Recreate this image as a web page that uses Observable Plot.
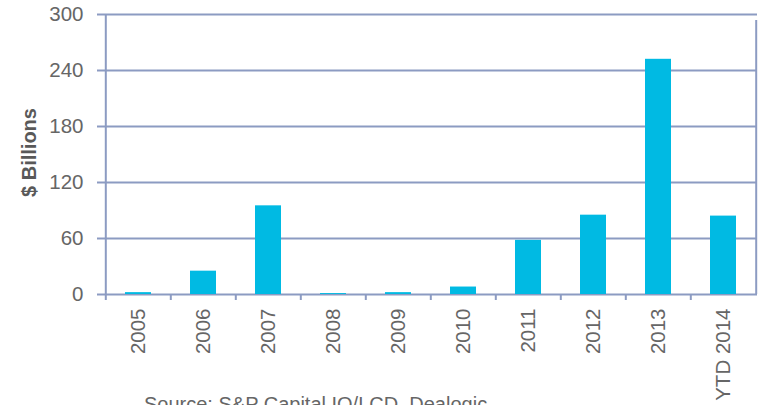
<!DOCTYPE html>
<html>
<head>
<meta charset="utf-8">
<script src="https://cdn.jsdelivr.net/npm/d3@7"></script>
<script src="https://cdn.jsdelivr.net/npm/@observablehq/plot@0.6"></script>
<style>
  html, body { margin: 0; padding: 0; background: #fff; }
  #wrap { position: relative; width: 760px; height: 405px; overflow: hidden; font-family: "Liberation Sans", Arial, sans-serif; }
  #caption { position: absolute; left: 144px; top: 393px; font-size: 20px; color: #666; white-space: nowrap; }
</style>
</head>
<body>
<div id="wrap"><div id="chart"></div><div id="caption">Source: S&amp;P Capital IQ/LCD, Dealogic</div></div>
<script>
const categories = ["2005", "2006", "2007", "2008", "2009", "2010", "2011", "2012", "2013", "YTD 2014"];
const values = [2, 25, 95, 1, 2, 8, 58, 85, 252, 84];
const yTicks = [0, 60, 120, 180, 240, 300];
const yLabel = "$ Billions";

const data = categories.map((c, i) => ({category: c, value: values[i]}));

const gridColor = "#8c9bc2";
const textColor = "#666666";
const barColor = "#00bae3";

const W = 760, H = 395, mL = 103, mR = 3, mT = 14, mB = 101;
const half = (W - mL - mR) / categories.length / 2;

const chart = Plot.plot({
  width: W,
  height: H,
  marginLeft: mL,
  marginRight: mR,
  marginTop: mT,
  marginBottom: mB,
  style: {fontFamily: "'Liberation Sans', Arial, sans-serif", fontSize: "20px", background: "#fff", overflow: "visible"},
  x: {domain: categories, paddingInner: 0.6, paddingOuter: 0.3, label: null},
  y: {type: "linear", domain: [0, 300], label: null},
  marks: [
    Plot.ruleY(yTicks, {stroke: gridColor, strokeWidth: 2}),
    Plot.barY(data, {x: "category", y: "value", fill: barColor}),
    Plot.ruleX([categories[0]], {x: d => d, dx: -half, stroke: gridColor, strokeWidth: 2, y1: 0, y2: 300}),
    Plot.ruleX([categories[categories.length - 1]], {x: d => d, dx: half, stroke: gridColor, strokeWidth: 2, y1: 0, y2: 300, insetBottom: -6}),
    Plot.ruleX(categories, {x: d => d, dx: -half, stroke: gridColor, strokeWidth: 2, y1: () => 0, y2: () => 0, insetBottom: -6}),
    Plot.axisX({tickSize: 0, tickRotate: -90, tickPadding: 14, fill: textColor, fontSize: 20.5, label: null}),
    Plot.axisY({ticks: yTicks, tickSize: 6, tickPadding: 14, stroke: gridColor, strokeWidth: 2, fill: textColor, fontSize: 20.5, label: null}),
    Plot.text([yLabel], {frameAnchor: "left", dx: -74, dy: -2, rotate: -90, textAnchor: "middle", text: d => d, fill: "#595959", fontSize: 20, fontWeight: "bold"})
  ]
});
document.getElementById("chart").appendChild(chart);
</script>
</body>
</html>
